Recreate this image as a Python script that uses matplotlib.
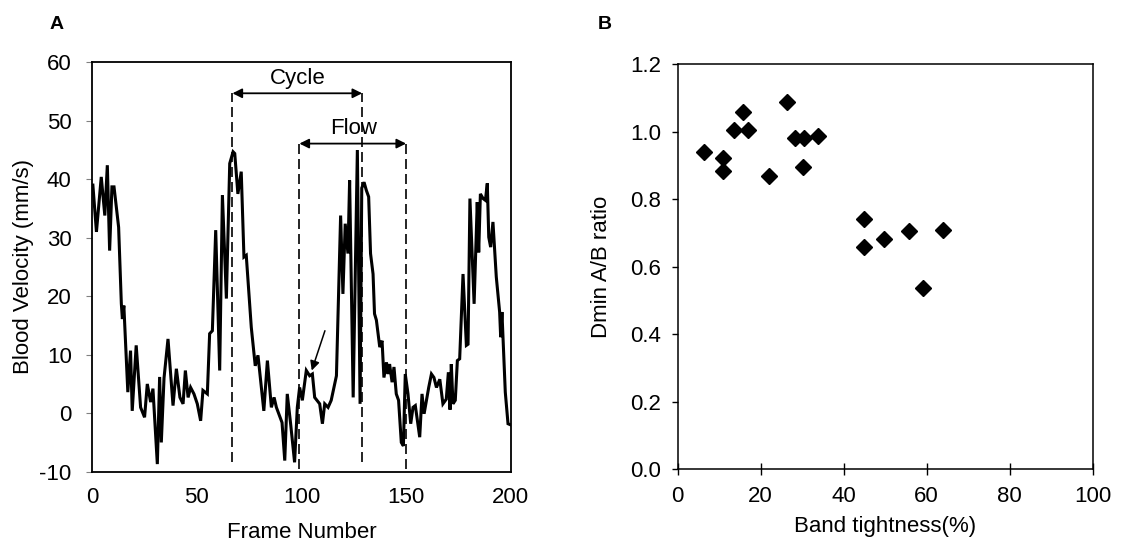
import matplotlib
matplotlib.use("Agg")
import matplotlib.pyplot as plt

plt.rcParams['font.family'] = ['Liberation Sans', 'DejaVu Sans']

# ---------------- Data: panel A (blood velocity trace) ----------------
frames = [0.3, 2, 4.3, 6, 7.2, 8.3, 9.4, 10.4, 12.6, 13.9, 14.4, 15.1, 17, 18.3, 19.1,
          21, 23.1, 25, 26.3, 27.9, 29, 31.1, 32.2, 33, 34.3, 36.2, 38.6, 40.2, 41.9,
          43.4, 44.5, 45.8, 47, 48.6, 50.2, 51.8, 52.9, 55, 56.1, 57.4, 59, 60.9, 62.2,
          64.1, 65.7, 67.3, 68.1, 69.6, 71.2, 72.5, 73.6, 76, 77.9, 79.2, 82, 83.7,
          85.6, 86.9, 88, 90.7, 92, 93.2, 94.8, 96.7, 98, 99.1, 100.4, 102.3, 103.9,
          105.2, 106.3, 108.7, 110, 111.1, 112.7, 114.2, 116.7, 118.7, 119.8, 120.9,
          122.2, 123, 124.7, 126.7, 128, 128.8, 129.9, 131, 132.1, 133, 134.2, 134.9,
          135.8, 137.4, 138.5, 139.4, 140.6, 141.4, 142.1, 143.3, 144.2, 145.3, 146.4,
          147.7, 148.7, 149.6, 150.9, 152.2, 153.3, 154.4, 156.5, 157.6, 158.6, 159.7,
          160.8, 162.1, 163.3, 164.5, 166.1, 167.6, 169.2, 170.2, 171.0, 171.6, 172.4,
          173.5, 174.5, 175.6, 177.2, 178.8, 179.6, 180.5, 182.5, 184, 184.7, 185.5,
          186.8, 187.9, 188.8, 189.5, 190.4, 191.5, 193.1, 194.7, 195.2, 195.8, 197.4,
          198.7, 200]
velocity = [39.0, 31, 40.4, 33.8, 42.4, 27.8, 38.7, 38.7, 31.8, 18.7, 16.1, 18.4, 3.6, 10.7, 0.4,
            11.6, 1.0, -0.7, 5.0, 1.9, 4.2, -8.7, 6.2, -5, 6.0, 12.7, 1.3, 7.6, 2.7,
            1.6, 7.3, 2.7, 4.4, 3.3, 1.6, -1.3, 3.9, 3.3, 13.6, 14.1, 31.3, 7.3, 37.3,
            19.6, 42.7, 44.7, 44.4, 37.5, 41.3, 26.7, 27.0, 14.7, 8.1, 9.9, 0.4, 9.0,
            1.0, 2.7, 1.0, -1.6, -8.1, 3.3, -1.8, -8.4, 1.0, 4.4, 2.2, 7.3, 6.4,
            6.7, 2.7, 1.6, -1.8, 1.6, 1.0, 2.2, 6.4, 33.8, 20.4, 32.4,
            27.3, 39.8, 2.7, 45, 1.6, 38.5, 39.5, 38.1, 37, 27.3, 23.8, 17,
            15.9, 11.3, 12.4, 6.1, 8.7, 6.7, 8.4, 5.3, 7.9, 3.3, 2.2,
            -5.0, -5.6, 6.7, 3.3, -1.8, 1.0, 1.3, -4.1, 3.3, -0.1, 2.2,
            4.4, 6.7, 6.1, 4.4, 5.8, 1.6, 2.4, 7.0, 0.6, 8.4, 1.6,
            2.2, 9.0, 9.3, 23.8, 11.6, 11.8, 36.7, 18.7, 36.1, 27.5, 37.5,
            36.7, 36.4, 39.3, 30.1, 28.4, 32.7, 23.3, 17.3, 13, 17.3, 3.6,
            -1.8, -2]

cycle_start, cycle_end, cycle_y = 67, 129, 54.7
flow_start, flow_end, flow_y = 99, 150, 46.1
arrow_tail = (111.2, 14.1)
arrow_head = (104.9, 7.3)

# ---------------- Data: panel B (scatter) ----------------
band_tightness = [6.3, 11.0, 11.0, 13.6, 15.7, 17.0, 22.1, 26.4, 28.3, 30.4, 30.1, 33.9,
                  44.9, 44.9, 49.7, 55.8, 63.9, 59.2]
dmin_ratio = [0.940, 0.921, 0.884, 1.004, 1.059, 1.006, 0.868, 1.086, 0.980, 0.980, 0.896, 0.987,
              0.740, 0.659, 0.682, 0.706, 0.708, 0.536]

FS = 16

fig = plt.figure(figsize=(11.21, 5.46), dpi=100)

# ---------------- Panel A ----------------
axA = fig.add_axes([0.0823, 0.1361, 0.3733, 0.7498])
axA.plot(frames, velocity, color='black', lw=2.2, solid_joinstyle='miter')
axA.set_xlim(0, 200)
axA.set_ylim(-10, 60)
axA.set_xticks([0, 50, 100, 150, 200])
axA.set_yticks(range(-10, 61, 10))
axA.set_yticklabels([str(v) for v in range(-10, 61, 10)])
axA.tick_params(axis='x', length=0, pad=11, labelsize=FS)
axA.tick_params(axis='y', length=4.3, pad=10.5, labelsize=FS, color='#808080', direction='out')
for s in axA.spines.values():
    s.set_linewidth(1.3)
axA.set_xlabel('Frame Number', fontsize=FS, labelpad=10)
axA.set_ylabel('Blood Velocity (mm/s)', fontsize=FS, labelpad=4)

dash = dict(color='black', lw=1.2, ls=(0, (6, 3)))
axA.plot([cycle_start, cycle_start], [-8.4, cycle_y], **dash)
axA.plot([cycle_end, cycle_end], [-8.4, cycle_y], **dash)
axA.plot([flow_start, flow_start], [-9.6, flow_y], **dash)
axA.plot([flow_end, flow_end], [-9.6, flow_y], **dash)

arrowprops = dict(arrowstyle='<|-|>', color='black', lw=1.3, mutation_scale=14,
                  shrinkA=0, shrinkB=0)
axA.annotate('', xy=(cycle_start, cycle_y), xytext=(cycle_end, cycle_y), arrowprops=arrowprops)
axA.annotate('', xy=(flow_start, flow_y), xytext=(flow_end, flow_y), arrowprops=arrowprops)
axA.text((cycle_start + cycle_end) / 2, cycle_y + 0.8, 'Cycle', ha='center', va='bottom', fontsize=FS)
axA.text((flow_start + flow_end) / 2 + 0.5, flow_y + 0.8, 'Flow', ha='center', va='bottom', fontsize=FS)
axA.annotate('', xy=arrow_head, xytext=arrow_tail,
             arrowprops=dict(arrowstyle='-|>', color='black', lw=1.1, mutation_scale=14,
                             shrinkA=0, shrinkB=0))

fig.text(0.0508, 0.955, 'A', fontsize=14, fontweight='bold', ha='center', va='center')

# ---------------- Panel B ----------------
axB = fig.add_axes([0.6045, 0.1405, 0.3702, 0.7423])
axB.plot(band_tightness, dmin_ratio, ls='none', marker='D', ms=7.8, color='black')
axB.set_xlim(0, 100)
axB.set_ylim(0, 1.2)
axB.set_xticks(range(0, 101, 20))
axB.set_yticks([0.0, 0.2, 0.4, 0.6, 0.8, 1.0, 1.2])
axB.set_yticklabels(['0.0', '0.2', '0.4', '0.6', '0.8', '1.0', '1.2'])
axB.tick_params(axis='x', direction='inout', length=8.6, width=1.0, pad=8, labelsize=FS)
axB.tick_params(axis='y', direction='out', length=4, width=1.0, pad=8, labelsize=FS)
for s in axB.spines.values():
    s.set_linewidth(1.1)
axB.set_xlabel('Band tightness(%)', fontsize=FS, labelpad=6)
axB.set_ylabel('Dmin A/B ratio', fontsize=FS, labelpad=13)

fig.text(0.5397, 0.955, 'B', fontsize=14, fontweight='bold', ha='center', va='center')

fig.savefig('out.png', dpi=100)
